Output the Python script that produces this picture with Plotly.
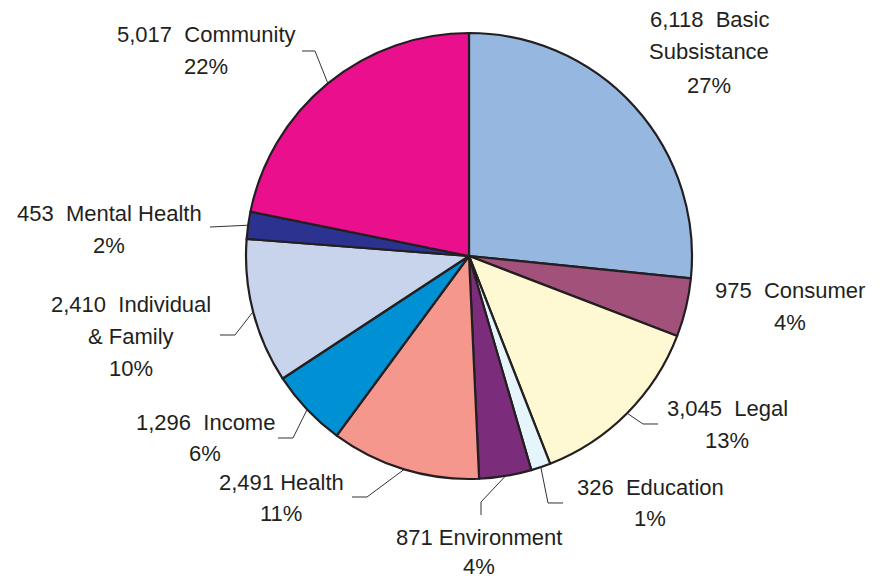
import math
import plotly.graph_objects as go

# ---------------- data ----------------
categories = ["Basic|Subsistance", "Consumer", "Legal", "Education", "Environment",
              "Health", "Income", "Individual|& Family", "Mental Health", "Community"]
values = [6118, 975, 3045, 326, 871, 2491, 1296, 2410, 453, 5017]
colors = ["#96B7E0", "#A2527A", "#FFF9D3", "#E6F4FC", "#7B2C7B",
          "#F5978D", "#0091D5", "#C8D3EC", "#2B3290", "#EA0F8D"]

# ---------------- layout helpers ----------------
W, H = 885, 580
CX, CY, R = 469, 256, 223            # pie centre / radius in pixels
FONT = "Liberation Sans, Arial, sans-serif"
TXT = "#231F20"

# label placement (pixels): centre x, first-line centre y, line gap, separator
label_pos = [(709, 19, 33, "  "), (790, 291, 32, "  "), (727, 408, 32, "  "),
             (650, 487, 31, "  "), (479, 537, 29, " "), (281, 482, 31, " "),
             (205, 422, 31, "  "), (131, 304, 32, "  "), (109, 213, 32, "  "),
             (206, 35, 32, "  ")]
# leader line waypoints (pixels) after the slice-edge point; None = no leader
leader_pts = [None, None, [(643, 424), (658, 424)], [(548, 503), (563, 503)],
              [(481, 502), (481, 515)], [(367, 497), (352, 497)],
              [(293, 438), (278, 438)], [(235, 335), (220, 335)],
              [(210, 227)], [(315, 51), (302, 51)]]


def px(x):
    return x / W


def py(y):
    return 1 - y / H


fig = go.Figure(go.Pie(
    labels=[c.replace("|", " ") for c in categories],
    values=values,
    sort=False,
    direction="clockwise",
    rotation=0,
    textinfo="none",
    hoverinfo="label+value+percent",
    marker=dict(colors=colors, line=dict(color="#231F20", width=2.2)),
    domain=dict(x=[px(CX - R), px(CX + R)], y=[py(CY + R), py(CY - R)]),
    showlegend=False,
))

total = sum(values)
annotations = []
shapes = []
cum = 0
for i, (cat, v) in enumerate(zip(categories, values)):
    start = cum
    cum += v
    mid = (start + v / 2) / total * 2 * math.pi
    parts = cat.split("|")
    cx, cy, gap, sep = label_pos[i]
    lines = [f"{v:,}{sep}{parts[0]}".replace(" ", "\u00a0")] + parts[1:] + [f"{round(100 * v / total)}%"]
    for k, ln in enumerate(lines):
        annotations.append(dict(
            x=px(cx), y=py(cy + k * gap), xref="paper", yref="paper",
            text=ln, showarrow=False, xanchor="center", yanchor="middle",
            borderpad=0,
            font=dict(family=FONT, size=22, color=TXT)))
    if leader_pts[i]:
        ex = CX + R * math.sin(mid)
        ey = CY - R * math.cos(mid)
        pts = [(ex, ey)] + leader_pts[i]
        path = "M " + " L ".join(f"{px(a):.5f},{py(b):.5f}" for a, b in pts)
        shapes.append(dict(type="path", path=path, xref="paper", yref="paper",
                           line=dict(color="#333333", width=1)))

fig.update_layout(
    width=W, height=H,
    margin=dict(l=0, r=0, t=0, b=0),
    paper_bgcolor="white", plot_bgcolor="white",
    annotations=annotations, shapes=shapes,
)

fig.write_html("out.html", config={"displayModeBar": False},
               post_script="document.body.style.margin='0';document.body.style.padding='0';")
